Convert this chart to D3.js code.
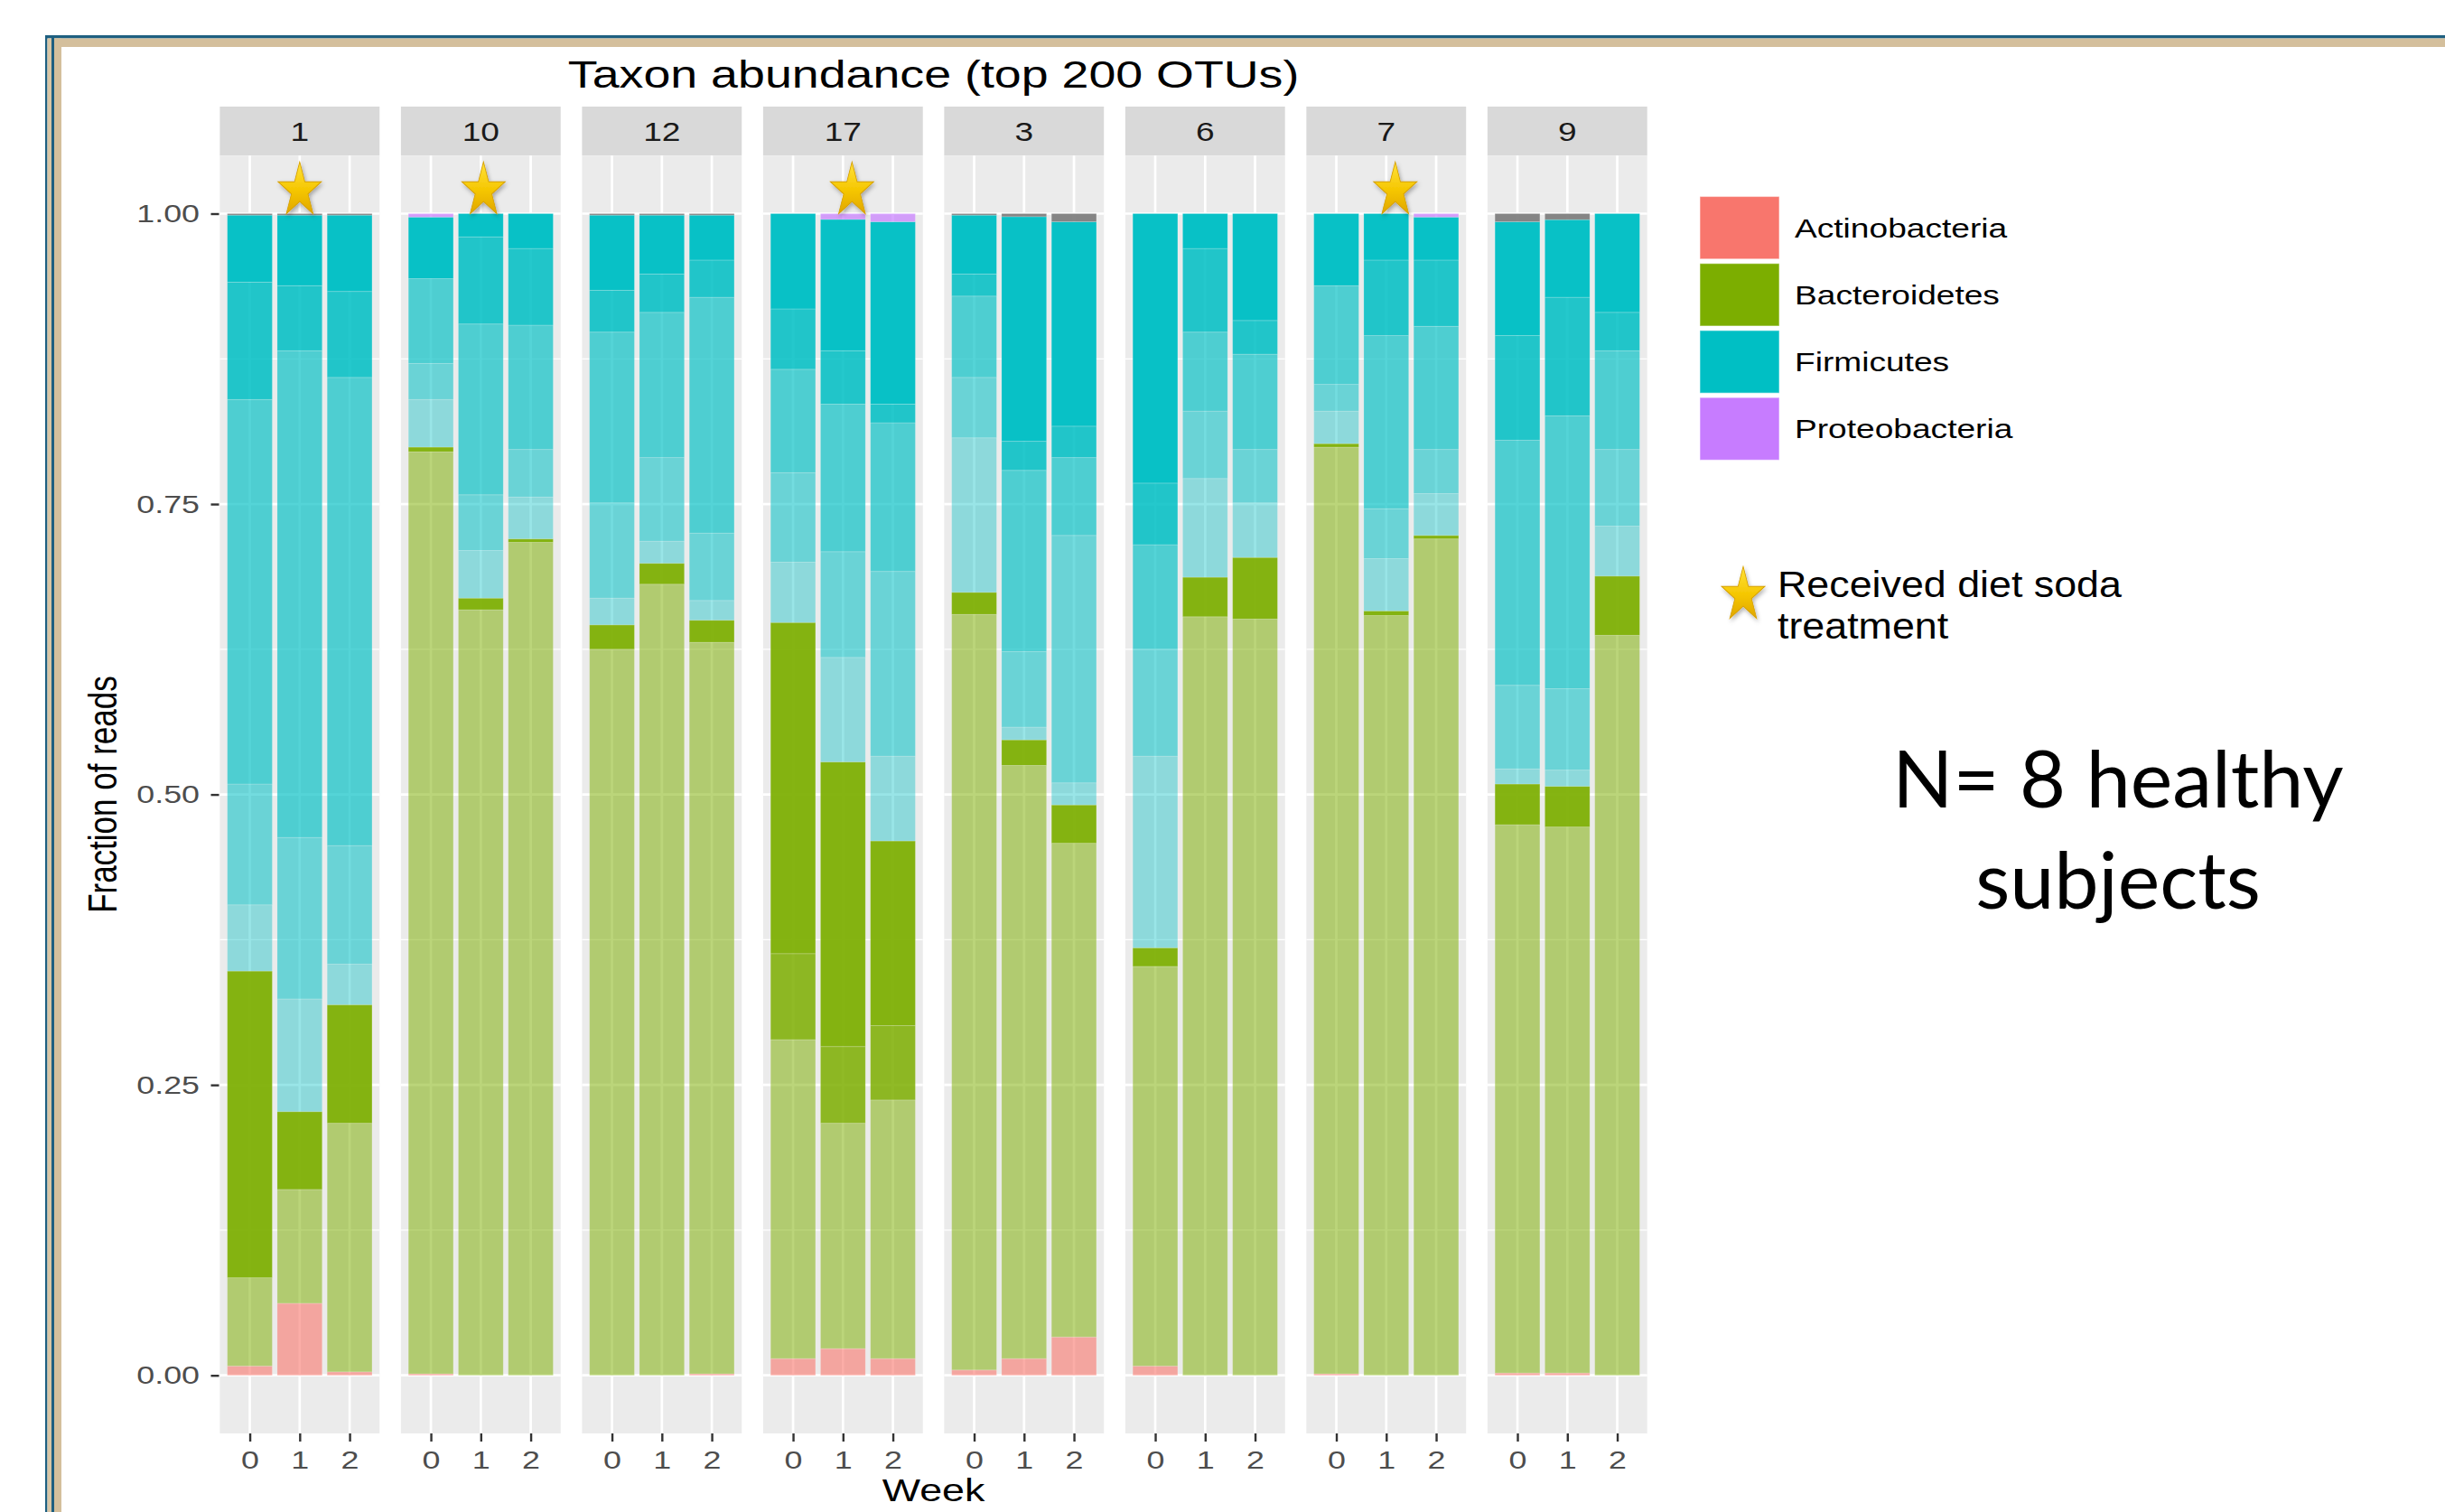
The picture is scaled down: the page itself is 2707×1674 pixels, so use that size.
<!DOCTYPE html>
<html>
<head>
<meta charset="utf-8">
<script src="https://cdn.jsdelivr.net/npm/d3@7"></script>
<style>
html,body{margin:0;padding:0;background:#fff;}
svg{display:block;}
</style>
</head>
<body>
<script>
// ---------------- DATA ----------------
const subjects = ["1", "10", "12", "17", "3", "6", "7", "9"];
const weeks = ["0", "1", "2"];
const phyla = ["Actinobacteria", "Bacteroidetes", "Firmicutes", "Proteobacteria"];
const phylumCodes = ["A", "B", "F", "P"];
const treatedSubjects = ["1", "10", "17", "7"];   // received diet soda (star on week 1)
const yTicks = [0, 0.25, 0.5, 0.75, 1];
const yMinor = [0.125, 0.375, 0.625, 0.875];

// OTU groups stacked bottom->top: [phylum code, cumulative fraction at top of group, abundance class]
// abundance class: top = few dominant OTUs, ... rare = many low-abundance OTUs ("NA" = unassigned phylum)
const subj1 = [
  [["A",.008,"top"],["B",.084,"top"],["B",.348,"rare"],["F",.405,"top"],["F",.509,"high"],["F",.840,"mid"],["F",.941,"low"],["F",.9987,"rare"],["NA",1,"rare"]],
  [["A",.062,"top"],["B",.160,"top"],["B",.227,"rare"],["F",.324,"top"],["F",.463,"high"],["F",.882,"mid"],["F",.938,"low"],["F",.9987,"rare"],["NA",1,"rare"]],
  [["A",.003,"top"],["B",.217,"top"],["B",.319,"rare"],["F",.354,"top"],["F",.456,"high"],["F",.859,"mid"],["F",.933,"low"],["F",.9987,"rare"],["NA",1,"rare"]]
];
const subj10 = [
  [["A",.0013,"top"],["B",.795,"top"],["B",.799,"rare"],["F",.840,"top"],["F",.871,"high"],["F",.944,"mid"],["F",.997,"rare"],["P",1,"top"]],
  [["B",.659,"top"],["B",.669,"rare"],["F",.710,"top"],["F",.758,"high"],["F",.905,"mid"],["F",.980,"low"],["F",1,"rare"]],
  [["B",.717,"top"],["B",.720,"rare"],["F",.756,"top"],["F",.797,"high"],["F",.904,"mid"],["F",.970,"low"],["F",1,"rare"]]
];
const subj12 = [
  [["B",.625,"top"],["B",.646,"rare"],["F",.669,"top"],["F",.751,"high"],["F",.898,"mid"],["F",.934,"low"],["F",.9987,"rare"],["NA",1,"rare"]],
  [["B",.681,"top"],["B",.699,"rare"],["F",.718,"top"],["F",.790,"high"],["F",.915,"mid"],["F",.948,"low"],["F",.9987,"rare"],["NA",1,"rare"]],
  [["A",.0013,"top"],["B",.631,"top"],["B",.650,"rare"],["F",.667,"top"],["F",.725,"high"],["F",.928,"mid"],["F",.960,"low"],["F",.9987,"rare"],["NA",1,"rare"]]
];
const subj17 = [
  [["A",.0144,"top"],["B",.289,"top"],["B",.363,"low"],["B",.648,"rare"],["F",.700,"top"],["F",.777,"high"],["F",.866,"mid"],["F",.918,"low"],["F",1,"rare"]],
  [["A",.023,"top"],["B",.217,"top"],["B",.283,"low"],["B",.528,"rare"],["F",.618,"top"],["F",.709,"high"],["F",.836,"mid"],["F",.882,"low"],["F",.995,"rare"],["P",1,"top"]],
  [["A",.0144,"top"],["B",.237,"top"],["B",.301,"low"],["B",.460,"rare"],["F",.533,"top"],["F",.692,"high"],["F",.820,"mid"],["F",.836,"low"],["F",.993,"rare"],["P",1,"top"]]
];
const subj3 = [
  [["A",.0046,"top"],["B",.655,"top"],["B",.674,"rare"],["F",.807,"top"],["F",.859,"high"],["F",.929,"mid"],["F",.948,"low"],["F",.9987,"rare"],["NA",1,"rare"]],
  [["A",.0144,"top"],["B",.525,"top"],["B",.547,"rare"],["F",.558,"top"],["F",.623,"high"],["F",.779,"mid"],["F",.804,"low"],["F",.9974,"rare"],["NA",1,"rare"]],
  [["A",.033,"top"],["B",.458,"top"],["B",.491,"rare"],["F",.510,"top"],["F",.723,"high"],["F",.790,"mid"],["F",.817,"low"],["F",.993,"rare"],["NA",1,"rare"]]
];
const subj6 = [
  [["A",.008,"top"],["B",.352,"top"],["B",.368,"rare"],["F",.533,"top"],["F",.625,"high"],["F",.715,"mid"],["F",.768,"low"],["F",1,"rare"]],
  [["B",.653,"top"],["B",.687,"rare"],["F",.772,"top"],["F",.830,"high"],["F",.898,"mid"],["F",.970,"low"],["F",1,"rare"]],
  [["B",.651,"top"],["B",.704,"rare"],["F",.751,"top"],["F",.797,"high"],["F",.879,"mid"],["F",.908,"low"],["F",1,"rare"]]
];
const subj7 = [
  [["A",.0013,"top"],["B",.799,"top"],["B",.802,"rare"],["F",.830,"top"],["F",.853,"high"],["F",.938,"mid"],["F",1,"rare"]],
  [["B",.654,"top"],["B",.658,"rare"],["F",.703,"top"],["F",.746,"high"],["F",.895,"mid"],["F",.960,"low"],["F",1,"rare"]],
  [["B",.720,"top"],["B",.723,"rare"],["F",.759,"top"],["F",.797,"high"],["F",.903,"mid"],["F",.960,"low"],["F",.997,"rare"],["P",1,"top"]]
];
const subj9 = [
  [["A",.002,"top"],["B",.474,"top"],["B",.509,"rare"],["F",.522,"top"],["F",.594,"high"],["F",.805,"mid"],["F",.895,"low"],["F",.993,"rare"],["NA",1,"rare"]],
  [["A",.002,"top"],["B",.472,"top"],["B",.507,"rare"],["F",.521,"top"],["F",.591,"high"],["F",.826,"mid"],["F",.928,"low"],["F",.9948,"rare"],["NA",1,"rare"]],
  [["B",.637,"top"],["B",.688,"rare"],["F",.731,"top"],["F",.797,"high"],["F",.882,"mid"],["F",.915,"low"],["F",1,"rare"]]
];
const subjectBars = [subj1, subj10, subj12, subj17, subj3, subj6, subj7, subj9];

// ---------------- STYLE ----------------
const W = 2707, H = 1674;
const KX = 1.28;   // horizontal stretch of the embedded ggplot image
const FONT = "'Liberation Sans', Arial, Helvetica, sans-serif";
const colors = {A: "#F8766D", B: "#7CAE00", F: "#00BFC4", P: "#C77CFF", NA: "#7F7F7F"};
const opac = {
  A: {top: .60},
  B: {top: .52, low: .85, rare: .93},
  F: {top: .40, high: .55, mid: .67, low: .86, rare: .97},
  P: {top: .70},
  NA: {rare: .95}
};
const starNudge = {"1": 0, "10": 3, "17": 10, "7": 10};  // hand-placed slide stars

const svg = d3.select("body").append("svg").attr("width", W).attr("height", H);
svg.append("rect").attr("width", W).attr("height", H).attr("fill", "#fff");

const defs = svg.append("defs");
const grad = defs.append("linearGradient").attr("id", "starGrad").attr("x1", 0).attr("y1", 0).attr("x2", 0).attr("y2", 1);
grad.append("stop").attr("offset", "0%").attr("stop-color", "#FFE23C");
grad.append("stop").attr("offset", "55%").attr("stop-color", "#F5C600");
grad.append("stop").attr("offset", "100%").attr("stop-color", "#E0A600");
const flt = defs.append("filter").attr("id", "shadow").attr("x", "-30%").attr("y", "-30%").attr("width", "160%").attr("height", "160%");
flt.append("feDropShadow").attr("dx", 1.5).attr("dy", 2).attr("stdDeviation", 2).attr("flood-color", "#000").attr("flood-opacity", 0.3);

// slide frame
const fr = svg.append("g");
fr.append("rect").attr("x", 50).attr("y", 39).attr("width", W - 50).attr("height", 3.5).attr("fill", "#1E5F80");
fr.append("rect").attr("x", 50).attr("y", 39).attr("width", 2.5).attr("height", H - 39).attr("fill", "#1E5F80");
fr.append("rect").attr("x", 52.5).attr("y", 42.5).attr("width", 4.5).attr("height", H - 42.5).attr("fill", "#D8C6A5");
fr.append("rect").attr("x", 57).attr("y", 42).attr("width", 3).attr("height", H - 42).attr("fill", "#1E5F80");
fr.append("rect").attr("x", 60).attr("y", 42.5).attr("width", 8).attr("height", H - 42.5).attr("fill", "#D4BF9C");
fr.append("rect").attr("x", 60).attr("y", 42.5).attr("width", W - 60).attr("height", 9.5).attr("fill", "#D4BF9C");

function stext(sel, x, y, txt, size, anchor, fill, kx) {
  return sel.append("text")
    .attr("transform", `translate(${x},${y}) scale(${kx == null ? KX : kx},1)`)
    .attr("text-anchor", anchor || "start")
    .attr("font-family", FONT).attr("font-size", size)
    .attr("fill", fill || "#000").text(txt);
}

// ---------------- SCALES ----------------
const fx = d3.scaleBand().domain(subjects).range([243.4, 1823.7]).paddingInner(0.118).paddingOuter(0);
const y = d3.scaleLinear().domain([-0.05, 1.05]).range([1587, 172.2]);
const xw = d3.scalePoint().domain(weeks).range([0, fx.bandwidth()]).padding(0.6);
const barW = xw.step() * 0.9;
const pw = fx.bandwidth();

// title
stext(svg, (fx.range()[0] + fx.range()[1]) / 2, 97, "Taxon abundance (top 200 OTUs)", 42, "middle", "#000");

// panels
subjects.forEach((s, si) => {
  const g = svg.append("g").attr("transform", `translate(${fx(s)},0)`);
  // strip
  g.append("rect").attr("x", 0).attr("y", 118).attr("width", pw).attr("height", y.range()[1] - 118).attr("fill", "#D9D9D9");
  stext(g, pw / 2, 156, s, 29, "middle", "#1A1A1A");
  // panel bg
  g.append("rect").attr("x", 0).attr("y", y.range()[1]).attr("width", pw).attr("height", y.range()[0] - y.range()[1]).attr("fill", "#EBEBEB");
  // grid
  g.selectAll(".minor").data(yMinor).join("line")
    .attr("x1", 0).attr("x2", pw).attr("y1", d => y(d)).attr("y2", d => y(d))
    .attr("stroke", "#fff").attr("stroke-width", 1.3);
  g.selectAll(".major").data(yTicks).join("line")
    .attr("x1", 0).attr("x2", pw).attr("y1", d => y(d)).attr("y2", d => y(d))
    .attr("stroke", "#fff").attr("stroke-width", 2.7);
  g.selectAll(".vgrid").data(weeks).join("line")
    .attr("x1", d => xw(d)).attr("x2", d => xw(d)).attr("y1", y.range()[1]).attr("y2", y.range()[0])
    .attr("stroke", "#fff").attr("stroke-width", 2.7);
  // bars
  subjectBars[si].forEach((segs, wi) => {
    const cx = xw(weeks[wi]);
    let prev = 0;
    const rows = segs.map(sg => { const r = {ph: sg[0], y0: prev, y1: sg[1], cls: sg[2]}; prev = sg[1]; return r; });
    g.append("g").selectAll("rect").data(rows).join("rect")
      .attr("x", cx - barW / 2).attr("width", barW)
      .attr("y", d => y(d.y1)).attr("height", d => Math.max(0.6, y(d.y0) - y(d.y1)))
      .attr("fill", d => colors[d.ph])
      .attr("fill-opacity", d => opac[d.ph][d.cls])
      .attr("stroke", "#fff").attr("stroke-opacity", 0.18).attr("stroke-width", 1);
  });
  // x axis
  const ax = g.append("g").attr("transform", `translate(0,${y.range()[0]})`)
    .call(d3.axisBottom(xw).tickSize(9).tickPadding(10));
  ax.select(".domain").remove();
  ax.selectAll(".tick line").attr("stroke", "#333").attr("stroke-width", 2.4);
  ax.selectAll(".tick text").attr("font-family", FONT).attr("font-size", 28).attr("fill", "#4D4D4D")
    .attr("transform", `scale(${KX},1)`);
  // star for treated subjects (week 1)
  if (treatedSubjects.includes(s)) {
    g.append("path").attr("d", d3.symbol(d3.symbolStar, 713)())
      .attr("transform", `translate(${xw("1") + starNudge[s]},${y(1) - 25.5}) scale(1,1.26)`)
      .attr("fill", "url(#starGrad)").attr("stroke", "#D7A000").attr("stroke-width", 0.8)
      .attr("filter", "url(#shadow)");
  }
});

// y axis
const yax = svg.append("g").attr("transform", `translate(${fx.range()[0] - 0.9},0)`)
  .call(d3.axisLeft(y).tickValues(yTicks).tickFormat(d3.format(".2f")).tickSize(9).tickPadding(12.5));
yax.select(".domain").remove();
yax.selectAll(".tick line").attr("stroke", "#333").attr("stroke-width", 2.4);
yax.selectAll(".tick text").attr("font-family", FONT).attr("font-size", 28).attr("fill", "#4D4D4D")
  .attr("x", -21.5 / KX).attr("transform", `scale(${KX},1)`);

// axis titles
svg.append("text").attr("transform", `translate(129,${(y(0) + y(1)) / 2}) scale(${KX},1) rotate(-90)`)
  .attr("text-anchor", "middle").attr("font-family", FONT).attr("font-size", 35).attr("fill", "#000")
  .text("Fraction of reads");
stext(svg, (fx.range()[0] + fx.range()[1]) / 2, 1662, "Week", 35, "middle", "#000");

// legend
const lg = svg.append("g");
phyla.forEach((p, i) => {
  const ty = 217.5 + i * 74.2;
  lg.append("rect").attr("x", 1882).attr("y", ty).attr("width", 88).attr("height", 69.3)
    .attr("fill", colors[phylumCodes[i]]).attr("stroke", "#fff").attr("stroke-opacity", 0.5).attr("stroke-width", 1.2);
  stext(lg, 1987, ty + 45, p, 29, "start", "#000");
});

// annotations
svg.append("path").attr("d", d3.symbol(d3.symbolStar, 713)())
  .attr("transform", `translate(1930,659) scale(1,1.26)`)
  .attr("fill", "url(#starGrad)").attr("stroke", "#D7A000").attr("stroke-width", 0.8)
  .attr("filter", "url(#shadow)");
stext(svg, 1968, 661, "Received diet soda", 40, "start", "#000", 1.12);
stext(svg, 1968, 707, "treatment", 40, "start", "#000", 1.12);

svg.append("text").attr("x", 2345).attr("y", 894).attr("text-anchor", "middle")
  .attr("font-family", "Lato, 'Open Sans', sans-serif").attr("font-size", 88).attr("fill", "#000").text("N= 8 healthy");
svg.append("text").attr("x", 2345).attr("y", 1006).attr("text-anchor", "middle")
  .attr("font-family", "Lato, 'Open Sans', sans-serif").attr("font-size", 88).attr("fill", "#000").text("subjects");
</script>
</body>
</html>
